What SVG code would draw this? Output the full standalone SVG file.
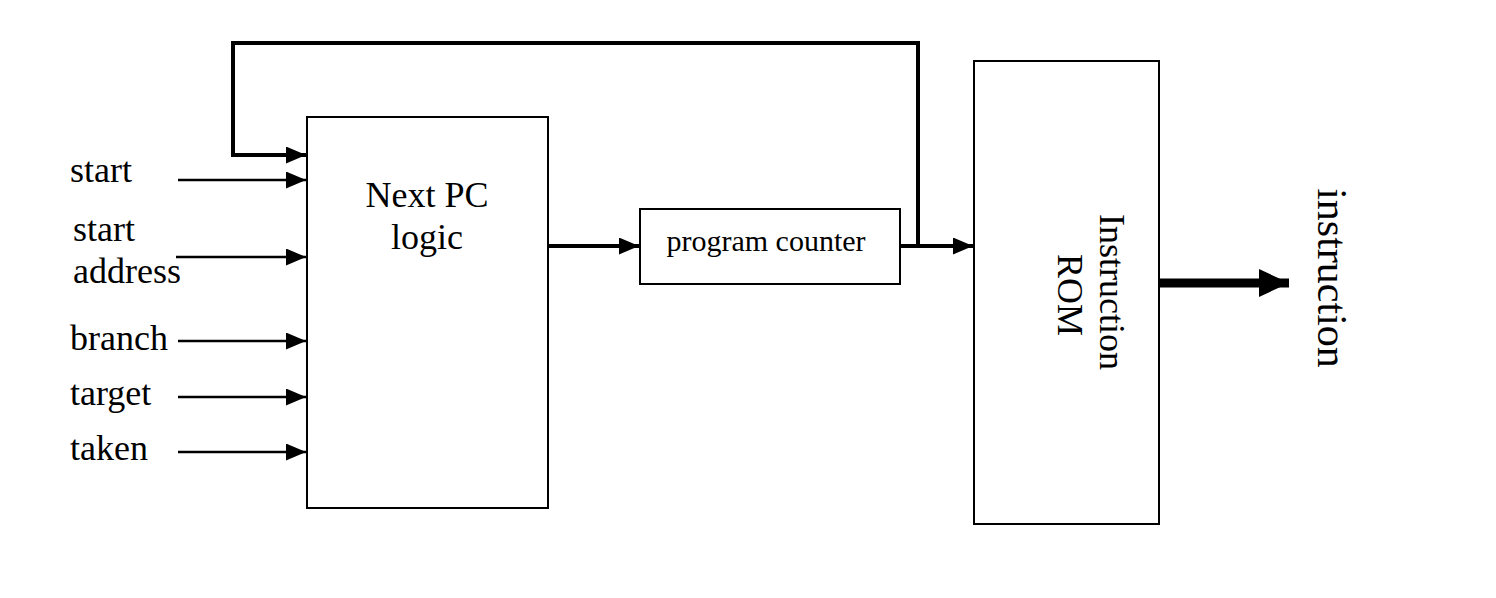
<svg xmlns="http://www.w3.org/2000/svg" width="1496" height="598" viewBox="0 0 1496 598">
<style>
.box{fill:#fff;stroke:#000;stroke-width:2}
.t{font-family:"Liberation Serif","Times New Roman",serif;fill:#000}
.thin{fill:none;stroke:#000;stroke-width:2.5}
.thick{fill:none;stroke:#000;stroke-width:4}
</style>
<defs>
<marker id="ah" markerUnits="userSpaceOnUse" markerWidth="20" markerHeight="17" refX="20" refY="8.5" orient="auto"><path d="M0,0 L20,8.5 L0,17 Z" fill="#000"/></marker>
<marker id="ahb" markerUnits="userSpaceOnUse" markerWidth="30" markerHeight="28" refX="30" refY="14" orient="auto"><path d="M0,0 L30,14 L0,28 Z" fill="#000"/></marker>
</defs>
<rect width="1496" height="598" fill="#fff"/>
<g id="connectors">
<path class="thick" d="M918,246 V43 H233 V155 H306" marker-end="url(#ah)"/>
<path class="thin" d="M178,180 H306" marker-end="url(#ah)"/>
<path class="thin" d="M176,257 H306" marker-end="url(#ah)"/>
<path class="thin" d="M178,341 H306" marker-end="url(#ah)"/>
<path class="thin" d="M178,397 H306" marker-end="url(#ah)"/>
<path class="thin" d="M178,452 H306" marker-end="url(#ah)"/>
<path class="thick" d="M548,246 H639" marker-end="url(#ah)"/>
<path class="thick" d="M900,246 H973" marker-end="url(#ah)"/>
<path fill="none" stroke="#000" stroke-width="9" d="M1159,283 H1289" marker-end="url(#ahb)"/>
</g>
<g id="labels">
<text class="t" x="70" y="182" font-size="36">start</text>
<text class="t" x="73" y="241" font-size="36">start</text>
<text class="t" x="73" y="283" font-size="36">address</text>
<text class="t" x="70" y="350" font-size="36">branch</text>
<text class="t" x="70" y="405" font-size="36">target</text>
<text class="t" x="70" y="460" font-size="36">taken</text>
<text class="t" font-size="42" text-anchor="middle" transform="translate(1318,278) rotate(90)">instruction</text>
</g>
<g id="next-pc">
<rect class="box" x="307" y="117" width="241" height="391"/>
<text class="t" x="427" y="207" font-size="36" text-anchor="middle">Next PC</text>
<text class="t" x="427" y="249" font-size="36" text-anchor="middle">logic</text>
</g>
<g id="program-counter">
<rect class="box" x="640" y="209" width="260" height="75"/>
<text class="t" x="766" y="251" font-size="30" text-anchor="middle">program counter</text>
</g>
<g id="instruction-rom">
<rect class="box" x="974" y="61" width="185" height="463"/>
<text class="t" font-size="36" text-anchor="middle" transform="translate(1100,292) rotate(90)">Instruction</text>
<text class="t" font-size="36" text-anchor="middle" transform="translate(1058,295) rotate(90)">ROM</text>
</g>
</svg>
